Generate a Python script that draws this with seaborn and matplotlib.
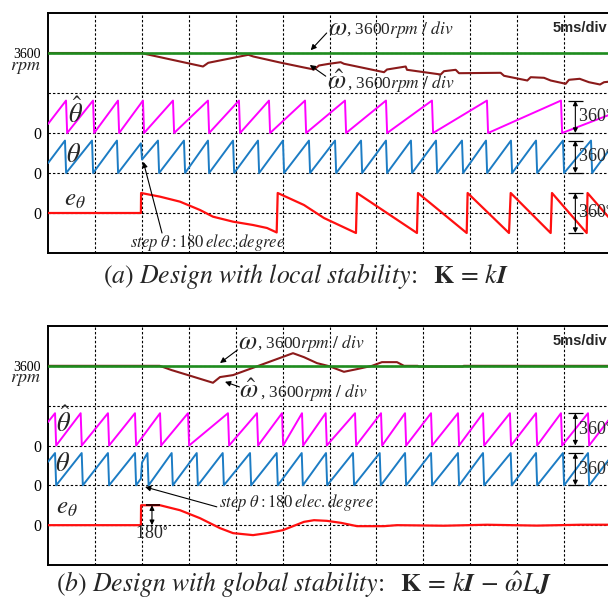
import numpy as np
import pandas as pd
import matplotlib
matplotlib.use("Agg")
import matplotlib.pyplot as plt
from matplotlib import transforms
import seaborn as sns

# ---------------- time base: 5 ms/div, 12 divisions ----------------
T_END = 60.0
STEP_T = 9.9          # instant of the 180 elec. degree step in theta (ms)

# ---------------- (a) design with local stability ----------------
# estimated angle: wrap instants (ms) and the angle at both edges (deg)
thhat_a_wrap = [1.92, 4.80, 7.46, 10.12, 13.32, 17.05, 20.35, 23.55, 27.39,
                31.65, 36.02, 40.92, 46.78, 54.67]
thhat_a_ends = [100, 209]
# actual angle: wrap instants, angle just before/after the step, edge angles
th_a_wrap = [1.81, 4.69, 7.35, 11.72, 14.49, 17.05, 19.72, 22.38, 25.04,
             27.81, 30.59, 33.36, 36.02, 38.68, 41.35, 44.12, 46.68, 49.34,
             52.01, 54.88, 57.87]
th_a_step = [330, 150]
th_a_ends = [110, 283]
# angle error e_theta (deg)
e_a_t = [0, 9.9, 9.92, 11.94, 14.07, 16.20, 17.58, 19.72, 21.85, 23.34, 24.37,
         24.48, 27.28, 29.41, 32.82, 32.93, 39.32, 39.43, 44.62, 44.72, 49.13,
         49.31, 53.57, 53.71, 57.41, 57.50, 60]
e_a_deg = [0, 0, 180, 147, 102, 27, -33, -78, -108, -135, -175,
           180, 72, -45, -180, 180, -180, 180, -180, 180, -180,
           180, -180, 180, -180, 180, -63]
# estimated speed (rpm)
w_a_t = [0, 9.9, 16.52, 17.08, 21.35, 21.88, 24.72, 27.28, 28.35, 28.88, 29.95,
         31.19, 31.54, 35.81, 36.13, 38.12, 38.26, 41.85, 42.20, 43.45, 43.80,
         48.24, 48.60, 51.08, 51.44, 52.86, 53.57, 55.17, 55.52, 56.66, 57.65,
         58.83, 59.26, 60]
w_a_rpm = [3600, 3600, 2385, 2718, 3438, 3285, 2745, 2295, 2115, 2475, 2628,
           2772, 2628, 1872, 2115, 2385, 2088, 1665, 1962, 2088, 1782,
           1818, 1548, 1125, 1422, 1368, 1125, 828, 1188, 1278, 972,
           765, 972, 1035]

# ---------------- (b) design with global stability ----------------
thhat_b_wrap = [0.75, 3.48, 6.39, 9.27, 11.94, 14.92, 19.18, 22.27, 24.94,
                27.07, 29.59, 32.72, 35.49, 38.05, 40.82, 43.69, 46.36, 49.23,
                52.01, 54.67, 57.55]
thhat_b_ends = [262, 318]
th_b_wrap = [0.75, 3.59, 6.39, 9.27, 10.60, 13.18, 15.85, 18.62, 21.53, 24.37,
             27.04, 29.63, 32.50, 35.35, 38.05, 40.82, 43.69, 46.36, 49.31,
             52.01, 54.88, 57.55]
th_b_step = [75, 255]
th_b_ends = [262, 318]
e_b_t = [0, 9.9, 9.92, 11.94, 14.07, 16.20, 18.33, 19.72, 21.85, 23.34, 25.04,
         27.28, 28.35, 29.73, 31.22, 32.93, 35.81, 37.19, 42.20, 46.78, 52.11,
         56.80, 60]
e_b_deg = [0, 0, 180, 180, 135, 63, -27, -72, -90, -72, -45,
           30, 45, 39, 21, -9, -9, 0, -5, 4, -4,
           4, 4]
w_b_t = [0, 11.9, 13.18, 14.92, 17.58, 18.33, 19.72, 26.11, 27.28, 28.67, 29.95,
         31.54, 32.93, 34.53, 35.59, 37.19, 37.94, 39.4, 39.5, 44.2, 44.3, 60]
w_b_rpm = [3600, 3600, 3213, 2763, 2070, 2583, 2763, 4743, 4383, 3843, 3573,
           3060, 3303, 3600, 3933, 3933, 3600, 3600, 3540, 3540, 3600, 3600]

# reference speed (rpm)
w_ref = 3600

# ---------------- oscilloscope channel settings ----------------
SPEED_OFF, SPEED_SCALE = 4, 3600      # rpm / div
THHAT_OFF, TH_OFF, ANG_SCALE = 3, 2, 444
E_OFF, E_SCALE = 1, 360

C_MAG = "#ff00ff"
C_BLUE = "#1c7cc4"
C_RED = "#ff1010"
C_DRED = "#8b1a1a"
C_GREEN = "#1e8c1e"

sns.set_style("white")
plt.rcParams.update({
    "font.family": ["Liberation Serif", "DejaVu Serif"],
    "mathtext.fontset": "stix",
    "axes.linewidth": 1.4,
})


def sawtooth(wraps, ends, step=None, fall=0.12):
    ev = [(w, 360.0, 0.0) for w in wraps]
    if step is not None:
        ev.append((STEP_T, float(step[0]), float(step[1])))
    ev.sort()
    t, a = [0.0], [float(ends[0])]
    for tw, hi, lo in ev:
        t += [tw, tw + fall]
        a += [hi, lo]
    t.append(T_END)
    a.append(float(ends[1]))
    return t, a


def trace(ax, t, v, off, scale, color, lw=1.4, z=3):
    df = pd.DataFrame({"t": np.asarray(t, float),
                       "y": off + np.asarray(v, float) / scale})
    sns.lineplot(data=df, x="t", y="y", ax=ax, color=color, lw=lw,
                 estimator=None, sort=False, zorder=z)


def frame(ax):
    ax.set_xlim(0, T_END)
    ax.set_ylim(0, 6)
    for x in np.arange(5, T_END, 5):
        ax.axvline(x, color="k", lw=0.8, ls=(0, (2.2, 1.8)), zorder=1)
    for y in [1, 2, 3, 4, 5]:
        ax.axhline(y, color="k", lw=0.8, ls=(0, (2.2, 1.8)), zorder=1)
    ax.set_xticks(np.arange(0, T_END + 1, 5))
    ax.set_xticklabels([])
    ax.set_yticks([1, 2, 3, 4, 5])
    ax.set_yticklabels(["0", "0", "0", "", "3600"])
    for lab in ax.get_yticklabels():
        lab.set_fontsize(11.5 if lab.get_text() == "0" else 10)
    ax.tick_params(axis="y", direction="inout", length=7, width=1.0, pad=1.5,
                   colors="k")
    ax.tick_params(axis="x", direction="in", length=5, width=1.0)
    for s in ["left", "top", "bottom"]:
        ax.spines[s].set_color("k")
        ax.spines[s].set_linewidth(1.4)
    ax.spines["right"].set_visible(False)
    ax.set_xlabel("")
    ax.set_ylabel("")
    tr = transforms.blended_transform_factory(ax.transAxes, ax.transData)
    ax.text(-0.013, 4.86, r"$rpm$", transform=tr, ha="right", va="top",
            fontsize=13)
    ax.text(0.994, 5.62, "5ms/div", transform=tr, ha="right", va="center",
            family=["Liberation Sans", "DejaVu Sans"], weight="bold",
            fontsize=10.5)


def arrow(ax, tip, tail):
    ax.annotate("", xy=tip, xytext=tail,
                arrowprops=dict(arrowstyle="-|>", color="k", lw=0.8,
                                mutation_scale=8, shrinkA=0, shrinkB=0))


def bracket(ax, t, lo, hi, label, lab_dx=0.3, cap=0.8):
    ax.annotate("", xy=(t, hi), xytext=(t, lo),
                arrowprops=dict(arrowstyle="<|-|>", color="k", lw=0.8,
                                mutation_scale=7, shrinkA=0, shrinkB=0))
    ax.hlines([lo, hi], t - cap, t + cap, color="k", lw=0.9, zorder=5)
    ax.text(t + lab_dx, (lo + hi) / 2, label, ha="left", va="center",
            fontsize=13)


def draw_panel(ax, thhat, th, e_t, e_deg, w_t, w_rpm):
    trace(ax, *thhat, THHAT_OFF, ANG_SCALE, C_MAG)
    trace(ax, *th, TH_OFF, ANG_SCALE, C_BLUE)
    trace(ax, e_t, e_deg, E_OFF, E_SCALE, C_RED, lw=1.6)
    trace(ax, w_t, w_rpm, SPEED_OFF, SPEED_SCALE, C_DRED, lw=1.5)
    trace(ax, [0, T_END], [w_ref, w_ref], SPEED_OFF, SPEED_SCALE, C_GREEN,
          lw=1.9, z=4)
    frame(ax)


fig = plt.figure(figsize=(6.08, 6.02), dpi=100)
ax_a = fig.add_axes([48 / 608, 1 - 253 / 602, 563 / 608, 240 / 602])
ax_b = fig.add_axes([48 / 608, 1 - 565 / 602, 563 / 608, 239 / 602])

draw_panel(ax_a, sawtooth(thhat_a_wrap, thhat_a_ends),
           sawtooth(th_a_wrap, th_a_ends, th_a_step),
           e_a_t, e_a_deg, w_a_t, w_a_rpm)
draw_panel(ax_b, sawtooth(thhat_b_wrap, thhat_b_ends),
           sawtooth(th_b_wrap, th_b_ends, th_b_step),
           e_b_t, e_b_deg, w_b_t, w_b_rpm)

ang_hi = 360 / ANG_SCALE
deg = r"360$^{\circ}$"
per_div = r", 3600$rpm\ /\ div$"

# ----- labels of panel (a) -----
ax = ax_a
ax.text(2.9, 3.5, r"$\hat{\theta}$", fontsize=19, ha="center", va="center")
ax.text(2.7, 2.45, r"$\theta$", fontsize=19, ha="center", va="center")
ax.text(2.9, 1.33, r"$e_{\theta}$", fontsize=18, ha="center", va="center")
ax.text(29.8, 5.6, r"$\omega$", fontsize=19, ha="left", va="center")
ax.text(31.8, 5.58, per_div, fontsize=12.5, ha="left", va="center")
arrow(ax, (28.0, 5.07), (29.7, 5.5))
ax.text(29.7, 4.28, r"$\hat{\omega}$", fontsize=19, ha="left", va="center")
ax.text(31.9, 4.24, per_div, fontsize=12.5, ha="left", va="center")
arrow(ax, (27.9, 4.7), (29.6, 4.42))
ax.text(17.05, 0.27, r"$step\ \theta : 180\,elec.degree$", fontsize=12,
        ha="center", va="center")
arrow(ax, (10.16, 2.28), (12.15, 0.5))
bracket(ax, 56.2, THHAT_OFF, THHAT_OFF + ang_hi, deg)
bracket(ax, 56.2, TH_OFF, TH_OFF + ang_hi, deg)
bracket(ax, 56.2, E_OFF - 180 / E_SCALE, E_OFF + 180 / E_SCALE, deg)

# ----- labels of panel (b) -----
ax = ax_b
ax.text(1.7, 3.6, r"$\hat{\theta}$", fontsize=19, ha="center", va="center")
ax.text(1.6, 2.52, r"$\theta$", fontsize=19, ha="center", va="center")
ax.text(2.0, 1.42, r"$e_{\theta}$", fontsize=18, ha="center", va="center")
ax.text(20.2, 5.57, r"$\omega$", fontsize=19, ha="left", va="center")
ax.text(22.3, 5.55, per_div, fontsize=12.5, ha="left", va="center")
arrow(ax, (18.33, 5.07), (20.2, 5.4))
ax.text(20.4, 4.37, r"$\hat{\omega}$", fontsize=19, ha="left", va="center")
ax.text(22.6, 4.33, per_div, fontsize=12.5, ha="left", va="center")
arrow(ax, (18.86, 4.6), (20.4, 4.47))
ax.text(26.5, 1.56, r"$step\ \theta : 180\,elec.degree$", fontsize=12,
        ha="center", va="center")
arrow(ax, (10.34, 1.96), (17.99, 1.46))
bracket(ax, 56.2, THHAT_OFF, THHAT_OFF + ang_hi, deg)
bracket(ax, 56.2, TH_OFF, TH_OFF + ang_hi, deg)
ax.annotate("", xy=(11.08, E_OFF + 180 / E_SCALE), xytext=(11.08, E_OFF),
            arrowprops=dict(arrowstyle="<|-|>", color="k", lw=0.8,
                            mutation_scale=7, shrinkA=0, shrinkB=0))
ax.hlines(E_OFF + 180 / E_SCALE, 10.4, 11.9, color="#3a0000", lw=1.4, zorder=5)
ax.text(11.08, 0.8, r"180$^{\circ}$", fontsize=13, ha="center", va="center")

# ----- captions -----
fig.text(0.503, 1 - 276 / 602,
         r"$(a)\ Design\ with\ local\ stability\!:\ \ \mathbf{K}\, =\, k\mathbfit{I}$",
         ha="center", va="center", fontsize=18.5)
fig.text(0.5, 1 - 584 / 602,
         r"$(b)\ Design\ with\ global\ stability\!:\ \ \mathbf{K}\, =\, k\mathbfit{I}\, -\, \hat{\omega}L\mathbfit{J}$",
         ha="center", va="center", fontsize=18.5)

fig.savefig("out.png", dpi=100)
